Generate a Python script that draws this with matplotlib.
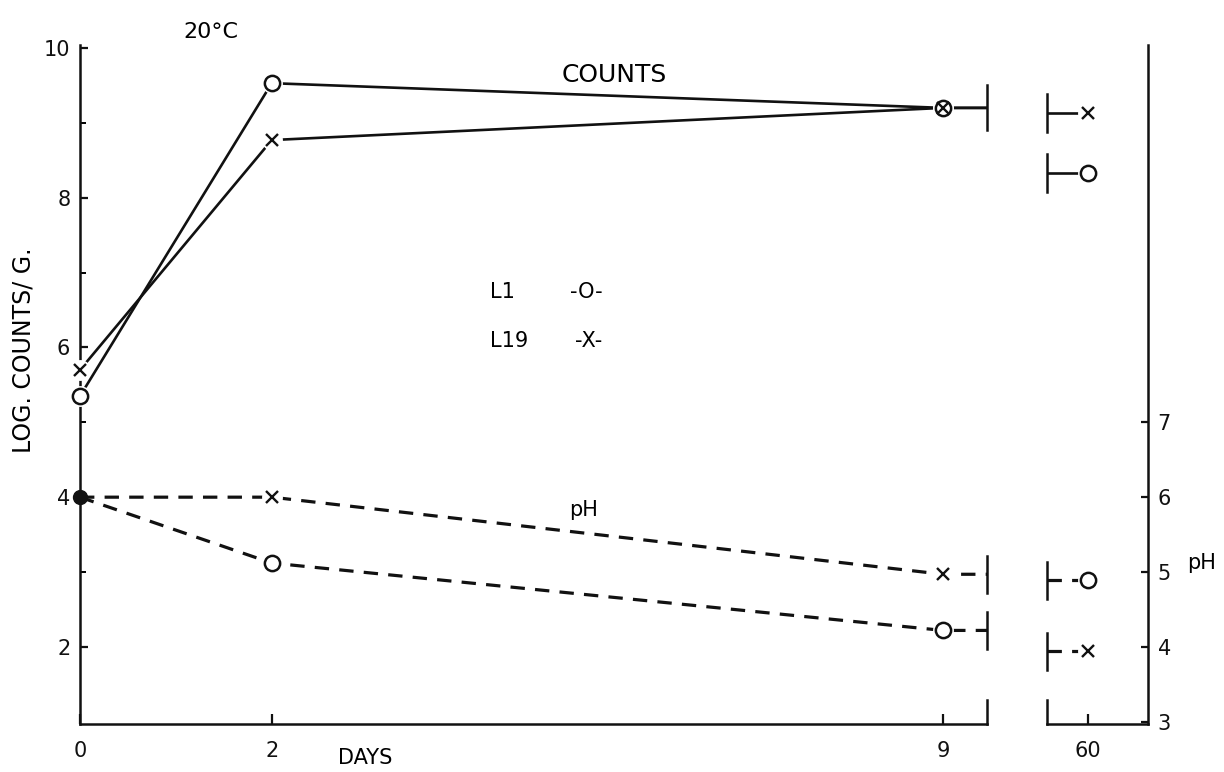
import numpy as np
import matplotlib
matplotlib.use('Agg')
import matplotlib.pyplot as plt

plt.rcParams['font.family'] = ['DejaVu Sans']

# Data (20 C storage, strains L1 and L19)
days = [0, 2, 9, 60]
counts_L1 = [5.35, 9.53, 9.2, 8.33]
counts_L19 = [5.7, 8.77, 9.2, 9.13]
ph_L1 = [6.0, 5.12, 4.22, 4.89]
ph_L19 = [6.0, 6.0, 4.97, 3.94]

count_ticks = [2, 4, 6, 8, 10]
count_minor = [3, 5, 7, 9]
ph_ticks = [3, 4, 5, 6, 7]
day_ticks_left = [0, 2, 9]
day_ticks_right = [60]

ink = '#111111'
W, H = 1224, 772

fig = plt.figure(figsize=(W / 100, H / 100), dpi=100)
ax1 = fig.add_axes([80 / W, 1 - 724 / H, (987 - 80) / W, (724 - 45) / H])
ax2 = fig.add_axes([1047 / W, 1 - 724 / H, (1148 - 1047) / W, (724 - 45) / H])
ax1p = ax1.twinx()
ax2p = ax2.twinx()

ax1.set_xlim(0, 9.46)
ax2.set_xlim(59.5, 60.73)
for a in (ax1, ax2):
    a.set_ylim(0.97, 10.04)
for a in (ax1p, ax2p):
    a.set_ylim(2.97, 12.04)

xbreak_l = ax1.get_xlim()[1]
xbreak_r = ax2.get_xlim()[0]

solid = dict(color=ink, lw=1.9, solid_capstyle='butt', zorder=2, clip_on=False)
dashed = dict(color=ink, lw=2.3, linestyle=(0, (4.5, 3.2)), zorder=2, clip_on=False)


def marks(ax, x, y, kind):
    # white patch behind the symbol so lines stop short of it
    ax.plot(x, y, 'o', ms=14, color='white', zorder=3, clip_on=False)
    if kind == 'o':
        ax.plot(x, y, 'o', ms=11, mfc='white', mec=ink, mew=1.8, zorder=4, clip_on=False)
    else:
        ax.plot(x, y, 'x', ms=9, mec=ink, mew=1.7, zorder=5, clip_on=False)


# counts
for vals, kind in ((counts_L1, 'o'), (counts_L19, 'x')):
    ax1.plot(days[:3] + [xbreak_l], vals[:3] + [vals[2]], **solid)
    marks(ax1, days[:3], vals[:3], kind)
    ax2.plot([xbreak_r, days[3]], [vals[3], vals[3]], **solid)
    marks(ax2, [days[3]], [vals[3]], kind)

# pH
for vals, kind in ((ph_L1, 'o'), (ph_L19, 'x')):
    ax1p.plot(days[:3] + [xbreak_l], vals[:3] + [vals[2]], **dashed)
    marks(ax1p, days[1:3], vals[1:3], kind)
    ax2p.plot([xbreak_r, days[3]], [vals[3], vals[3]], **dashed)
    marks(ax2p, [days[3]], [vals[3]], kind)

# common starting pH
ax1p.plot([days[0]], [ph_L1[0]], 'o', ms=10, color=ink, zorder=6, clip_on=False)

# break marks
bk = dict(color=ink, lw=1.8, clip_on=False, zorder=6)
ax1.plot([xbreak_l] * 2, [counts_L1[2] - 0.3, counts_L1[2] + 0.3], **bk)
for v in (ph_L1[2], ph_L19[2]):
    ax1p.plot([xbreak_l] * 2, [v - 0.25, v + 0.25], **bk)
for v in (counts_L1[3], counts_L19[3]):
    ax2.plot([xbreak_r] * 2, [v - 0.25, v + 0.25], **bk)
for v in (ph_L1[3], ph_L19[3]):
    ax2p.plot([xbreak_r] * 2, [v - 0.25, v + 0.25], **bk)
ax1.plot([1, 1], [0, 0.035], transform=ax1.transAxes, **bk)
ax2.plot([0, 0], [0, 0.035], transform=ax2.transAxes, **bk)

# axes styling
for a in (ax1, ax2, ax1p, ax2p):
    for s in a.spines.values():
        s.set_visible(False)
        s.set_color(ink)
        s.set_linewidth(1.8)
    a.patch.set_visible(False)

ax1.spines['left'].set_visible(True)
ax1.spines['bottom'].set_visible(True)
ax2.spines['bottom'].set_visible(True)
ax2p.spines['right'].set_visible(True)

ax1.set_yticks(count_ticks)
ax1.set_yticks(count_minor, minor=True)
ax1.tick_params(axis='y', which='major', direction='in', length=6, width=1.6,
                labelsize=15, pad=7, colors=ink)
ax1.tick_params(axis='y', which='minor', direction='in', length=4, width=1.4)
ax1.set_xticks(day_ticks_left)
ax1.set_xticklabels([str(d) for d in day_ticks_left])
ax1.tick_params(axis='x', direction='in', length=7, width=1.6, labelsize=15, pad=12, colors=ink)

ax2.set_xticks(day_ticks_right)
ax2.set_xticklabels([str(d) for d in day_ticks_right])
ax2.tick_params(axis='x', direction='in', length=7, width=1.6, labelsize=15, pad=12, colors=ink)
ax2.set_yticks([])
ax1p.set_yticks([])

ax2p.set_yticks(ph_ticks)
ax2p.tick_params(axis='y', direction='in', length=5, width=1.6, labelsize=15, pad=7, colors=ink)

# labels
ax1.text(0.589, 0.956, 'COUNTS', transform=ax1.transAxes, ha='center', va='center', fontsize=18)
ax1.text(0.555, 0.315, 'pH', transform=ax1.transAxes, ha='center', va='center', fontsize=15)
ax1.text(0.452, 0.636, 'L1', transform=ax1.transAxes, ha='left', va='center', fontsize=15)
ax1.text(0.540, 0.636, '-O-', transform=ax1.transAxes, ha='left', va='center', fontsize=15)
ax1.text(0.452, 0.564, 'L19', transform=ax1.transAxes, ha='left', va='center', fontsize=15)
ax1.text(0.546, 0.564, '-X-', transform=ax1.transAxes, ha='left', va='center', fontsize=15)

fig.text(211 / W, 1 - 32 / H, '20°C', ha='center', va='center', fontsize=16)
fig.text(365 / W, 1 - 758 / H, 'DAYS', ha='center', va='center', fontsize=15)
fig.text(24 / W, 1 - 350 / H, 'LOG. COUNTS/ G.', rotation=90, ha='center', va='center', fontsize=17)
fig.text(1202 / W, 1 - 563 / H, 'pH', ha='center', va='center', fontsize=15)

fig.savefig('out.png', dpi=100)
